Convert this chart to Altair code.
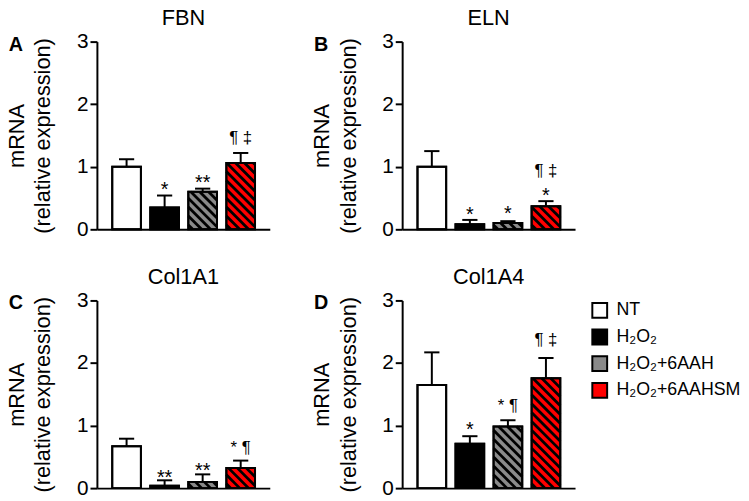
import altair as alt
import pandas as pd

# ---------------- data ----------------
groups = ["NT", "H₂O₂", "H₂O₂+6AAH", "H₂O₂+6AAHSM"]
colors = ["#ffffff", "#000000", "#8a8a8a", "#ff0000"]
hatched = [False, False, True, True]

panel_names = ["FBN", "ELN", "Col1A1", "Col1A4"]
panel_letters = ["A", "B", "C", "D"]

fbn_mean = [1.00, 0.35, 0.60, 1.06]
fbn_err = [0.12, 0.19, 0.05, 0.16]
eln_mean = [1.00, 0.08, 0.10, 0.37]
eln_err = [0.25, 0.07, 0.03, 0.08]
col1a1_mean = [0.67, 0.04, 0.10, 0.32]
col1a1_err = [0.12, 0.085, 0.12, 0.12]
col1a4_mean = [1.65, 0.71, 0.985, 1.755]
col1a4_err = [0.52, 0.12, 0.10, 0.325]

fbn_ann_idx = [1, 2, 3]
fbn_ann_text = ["*", "**", "¶ ‡"]
fbn_ann_y = [0.53, 0.65, 1.38]
eln_ann_idx = [1, 2, 3, 3]
eln_ann_text = ["*", "*", "*", "¶ ‡"]
eln_ann_y = [0.14, 0.15, 0.44, 0.86]
col1a1_ann_idx = [1, 2, 3]
col1a1_ann_text = ["**", "**", "* ¶"]
col1a1_ann_y = [0.07, 0.17, 0.56]
col1a4_ann_idx = [1, 2, 3]
col1a4_ann_text = ["*", "* ¶", "¶ ‡"]
col1a4_ann_y = [0.83, 1.24, 2.28]

y_ticks = [0, 1, 2, 3]

all_mean = [fbn_mean, eln_mean, col1a1_mean, col1a4_mean]
all_err = [fbn_err, eln_err, col1a1_err, col1a4_err]
all_ann = [
    (fbn_ann_idx, fbn_ann_text, fbn_ann_y),
    (eln_ann_idx, eln_ann_text, eln_ann_y),
    (col1a1_ann_idx, col1a1_ann_text, col1a1_ann_y),
    (col1a4_ann_idx, col1a4_ann_text, col1a4_ann_y),
]

# ---------------- layout / style ----------------
W, H = 175, 190
X_MIN, X_MAX = -0.78, 3.765
Y_MAX = 3
HALF = 0.377   # half bar width (x units)
CAP = 0.2      # half cap width
FONT = "Liberation Sans"
PERIOD_PX = 9.0

xs = alt.Scale(domain=[X_MIN, X_MAX], nice=False, zero=False)
ys = alt.Scale(domain=[0, Y_MAX], nice=False, zero=True)

x_axis = alt.Axis(labels=False, ticks=False, title=None, grid=False,
                  domainWidth=2, domainColor="black")
y_axis = alt.Axis(values=y_ticks, title=["mRNA", "(relative expression)"],
                  grid=False, domainWidth=2, domainColor="black",
                  tickWidth=2, tickColor="black", tickSize=7,
                  labelFontSize=21, labelColor="black", labelPadding=2,
                  titleFontSize=22, titleFontWeight="normal", titleColor="black",
                  titlePadding=22, titleLineHeight=27, labelFont=FONT, titleFont=FONT)

fill_legend = alt.Legend(title=None, orient="none", legendX=500, legendY=263,
                         symbolType="square", symbolSize=225,
                         symbolStrokeColor="black", symbolStrokeWidth=2,
                         labelFontSize=18, labelFont=FONT, labelColor="black",
                         labelOffset=8, rowPadding=3)


def hatch_rows(idx, value):
    sx = W / (X_MAX - X_MIN)
    sy = H / Y_MAX
    w = 2 * HALF * sx
    h = value * sy
    rows = []
    c = PERIOD_PX / 2
    while c < w + h:
        xa = max(0.0, c - h)
        xb = min(w, c)
        if xb > xa:
            rows.append({
                "hx0": idx - HALF + xa / sx, "hy0": (c - xa) / sy,
                "hx1": idx - HALF + xb / sx, "hy1": (c - xb) / sy,
            })
        c += PERIOD_PX
    return rows


def X(field):
    return alt.X(field, scale=xs, axis=x_axis)


def Y(field):
    return alt.Y(field, scale=ys, axis=y_axis)


def make_panel(k):
    means = all_mean[k]
    errs = all_err[k]
    df = pd.DataFrame({
        "idx": list(range(len(groups))),
        "group": groups,
        "mean": means,
        "err": errs,
    })
    df["x0"] = df["idx"] - HALF
    df["x1"] = df["idx"] + HALF
    df["top"] = df["mean"] + df["err"]
    df["c0"] = df["idx"] - CAP
    df["c1"] = df["idx"] + CAP

    hrows = []
    for i in range(len(groups)):
        if hatched[i]:
            hrows += hatch_rows(i, means[i])
    hdf = pd.DataFrame(hrows)

    a_idx, a_text, a_y = all_ann[k]
    a_size = [20 if set(t) <= {"*"} else 17 for t in a_text]
    adf = pd.DataFrame({"idx": a_idx, "txt": a_text, "ay": a_y, "fs": a_size})

    base = alt.Chart(df)
    bars = base.mark_bar(stroke="black", strokeWidth=2).encode(
        x=X("x0:Q"), x2="x1:Q",
        y=Y("mean:Q"), y2=alt.datum(0),
        fill=alt.Fill("group:N", scale=alt.Scale(domain=groups, range=colors),
                      legend=fill_legend, sort=groups),
    )
    stripes = alt.Chart(hdf).mark_rule(color="black", strokeWidth=2.8,
                                       strokeCap="butt").encode(
        x=X("hx0:Q"), x2="hx1:Q", y=Y("hy0:Q"), y2="hy1:Q",
    )
    outline = base.mark_bar(fillOpacity=0, stroke="black", strokeWidth=2).encode(
        x=X("x0:Q"), x2="x1:Q", y=Y("mean:Q"), y2=alt.datum(0),
    )
    stem = base.mark_rule(color="black", strokeWidth=2).encode(
        x=X("idx:Q"), y=Y("mean:Q"), y2="top:Q",
    )
    cap = base.mark_rule(color="black", strokeWidth=2).encode(
        x=X("c0:Q"), x2="c1:Q", y=Y("top:Q"),
    )
    ann = alt.Chart(adf).mark_text(font=FONT, color="black",
                                   align="center", baseline="alphabetic").encode(
        x=X("idx:Q"), y=Y("ay:Q"), text="txt:N",
        size=alt.Size("fs:Q", scale=None, legend=None),
    )
    letter = alt.Chart(pd.DataFrame({"t": [panel_letters[k]]})).mark_text(
        fontSize=20, fontWeight="bold", font=FONT, color="black",
        align="center", baseline="middle").encode(
        x=alt.value(-82), y=alt.value(3), text="t:N")

    return alt.layer(bars, stripes, outline, stem, cap, ann, letter).properties(
        width=W, height=H,
        title=alt.TitleParams(panel_names[k], fontSize=22, fontWeight="normal",
                              font=FONT, color="black", anchor="middle", offset=1),
    )


row1 = alt.hconcat(make_panel(0), make_panel(1), spacing=41)
row2 = alt.hconcat(make_panel(2), make_panel(3), spacing=41)
chart = alt.vconcat(row1, row2, spacing=27).properties(
    padding={"top": -4, "left": -3, "right": 0, "bottom": 0}).configure(
    font=FONT).configure_view(stroke=None)

chart.save("out.html", embed_options={"renderer": "svg", "actions": False})
